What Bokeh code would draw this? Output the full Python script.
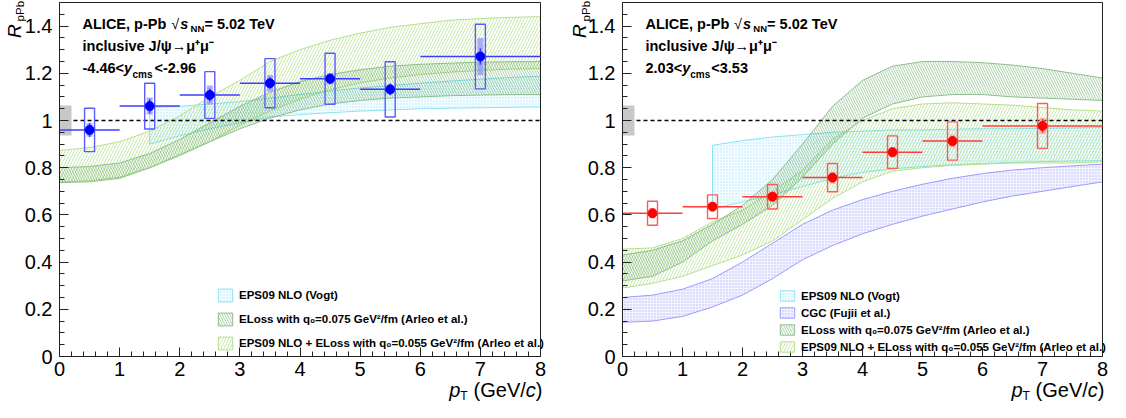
import math
from bokeh.plotting import figure
from bokeh.layouts import row
from bokeh.models import (Label, Legend, LegendItem, Range1d,
                          SingleIntervalTicker, CustomJSTickFormatter)
from bokeh.embed import file_html
from bokeh.resources import INLINE

FONT = "Liberation Sans"

# ---------------- data ----------------
pt_centers = [0.5, 1.5, 2.5, 3.5, 4.5, 5.5, 7.0]
pt_low = [0, 1, 2, 3, 4, 5, 6]
pt_high = [1, 2, 3, 4, 5, 6, 8]
global_unc = 0.064

# backward rapidity (-4.46 < y_cms < -2.96)
back_rpa = [0.960, 1.061, 1.108, 1.158, 1.177, 1.132, 1.271]
back_stat = [0.030, 0.030, 0.028, 0.025, 0.022, 0.025, 0.035]
back_syst_unc = [0.092, 0.097, 0.099, 0.104, 0.108, 0.117, 0.137]
back_syst_corr = [0.028, 0.036, 0.040, 0.035, 0.024, 0.020, 0.079]

# forward rapidity (2.03 < y_cms < 3.53)
fwd_rpa = [0.607, 0.635, 0.677, 0.758, 0.866, 0.913, 0.977]
fwd_stat = [0.012, 0.012, 0.013, 0.015, 0.017, 0.020, 0.030]
fwd_syst_unc = [0.051, 0.050, 0.052, 0.060, 0.069, 0.081, 0.095]
fwd_syst_corr = [0.022, 0.020, 0.022, 0.026, 0.022, 0.028, 0.034]

# model bands
band_x = [0, 0.5, 1, 1.5, 2, 2.5, 3, 3.5, 4, 4.5, 5, 5.5, 6, 6.5, 7, 7.5, 8]
eps_x = [1.5, 2, 2.5, 3, 3.5, 4, 4.5, 5, 5.5, 6, 6.5, 7, 7.5, 8]

back_eps_hi = [1.055, 1.06, 1.07, 1.08, 1.095, 1.11, 1.125, 1.138, 1.148, 1.158, 1.167, 1.175, 1.182, 1.188]
back_eps_lo = [0.90, 0.935, 0.965, 0.99, 1.015, 1.025, 1.033, 1.04, 1.045, 1.05, 1.052, 1.054, 1.056, 1.058]
back_eloss_hi = [0.80, 0.805, 0.82, 0.86, 0.92, 0.99, 1.06, 1.12, 1.165, 1.195, 1.215, 1.23, 1.238, 1.243, 1.247, 1.249, 1.25]
back_eloss_lo = [0.737, 0.74, 0.755, 0.80, 0.855, 0.91, 0.965, 1.01, 1.045, 1.07, 1.085, 1.095, 1.10, 1.105, 1.108, 1.11, 1.11]
back_epsel_hi = [0.873, 0.885, 0.91, 0.955, 1.02, 1.10, 1.17, 1.25, 1.30, 1.34, 1.37, 1.395, 1.41, 1.425, 1.432, 1.437, 1.44]
back_epsel_lo = [0.74, 0.745, 0.76, 0.80, 0.85, 0.91, 0.98, 1.04, 1.09, 1.13, 1.16, 1.18, 1.195, 1.205, 1.212, 1.218, 1.22]

fwd_eps_hi = [0.895, 0.915, 0.93, 0.94, 0.95, 0.955, 0.96, 0.96, 0.963, 0.965, 0.965, 0.967, 0.968, 0.97]
fwd_eps_lo = [0.625, 0.655, 0.685, 0.72, 0.755, 0.78, 0.795, 0.805, 0.812, 0.818, 0.822, 0.826, 0.828, 0.83]
fwd_cgc_hi = [0.25, 0.26, 0.285, 0.33, 0.40, 0.48, 0.56, 0.62, 0.665, 0.70, 0.73, 0.755, 0.775, 0.79, 0.80, 0.808, 0.815]
fwd_cgc_lo = [0.145, 0.15, 0.17, 0.21, 0.26, 0.33, 0.41, 0.47, 0.52, 0.56, 0.595, 0.625, 0.655, 0.68, 0.70, 0.72, 0.74]
fwd_eloss_hi = [0.43, 0.45, 0.49, 0.56, 0.64, 0.75, 0.90, 1.06, 1.17, 1.23, 1.25, 1.25, 1.245, 1.235, 1.22, 1.20, 1.18]
fwd_eloss_lo = [0.32, 0.34, 0.40, 0.49, 0.56, 0.64, 0.76, 0.90, 1.01, 1.07, 1.10, 1.11, 1.11, 1.10, 1.095, 1.09, 1.085]
fwd_epsel_hi = [0.455, 0.46, 0.50, 0.57, 0.62, 0.70, 0.79, 0.92, 1.00, 1.05, 1.07, 1.075, 1.07, 1.065, 1.055, 1.045, 1.04]
fwd_epsel_lo = [0.29, 0.31, 0.34, 0.385, 0.43, 0.49, 0.58, 0.67, 0.74, 0.785, 0.80, 0.81, 0.815, 0.82, 0.82, 0.82, 0.825]

X_MIN, X_MAX = 0, 8
Y_MIN, Y_MAX = 0, 1.5
x_tick_step = 1
y_tick_step = 0.2

lbl_eps = "EPS09 NLO (Vogt)"
lbl_cgc = "CGC (Fujii et al.)"
lbl_eloss = "ELoss with q\u2080=0.075 GeV\u00b2/fm (Arleo et al.)"
lbl_epsel = "EPS09 NLO + ELoss with q\u2080=0.055 GeV\u00b2/fm (Arleo et al.)"

# ---------------- styles ----------------
STY_EPS = dict(fill_color="#c6f2ff", fill_alpha=0.18, hatch_pattern="dot", hatch_color="#55ccee",
               hatch_scale=3, hatch_alpha=0.45, line_color="#8ae4f4", line_width=1)
STY_CGC = dict(fill_color="#d0d0ff", fill_alpha=0.25, hatch_pattern="dot", hatch_color="#7070ee",
               hatch_scale=3, hatch_alpha=0.45, line_color="#9a9aff", line_width=1)
STY_ELOSS = dict(fill_color=None, hatch_pattern="left_diagonal_line", hatch_color="#2e8b2e",
                 hatch_scale=5, hatch_weight=0.7, hatch_alpha=0.6, line_color="#8fbf8f", line_width=1)
STY_EPSEL = dict(fill_color=None, hatch_pattern="right_diagonal_line", hatch_color="#7cc83c",
                 hatch_scale=6, hatch_weight=0.7, hatch_alpha=0.6, line_color="#b5e08f", line_width=1)

blue = ("#0000ff", "#3c3cff", "#5a5aff", "#8c8cff")
red = ("#ff0000", "#ff3c3c", "#ff5a5a", "#ff9a9a")


def band(p, xs, lo, hi, sty):
    px = list(xs) + list(xs)[::-1]
    py = list(hi) + list(lo)[::-1]
    return p.patch(px, py, **sty)


def lab(p, x, y, text, size, style="bold", align="left", angle=0.0):
    p.add_layout(Label(x=x, y=y, text=text, text_font=FONT, text_font_size=size,
                       text_font_style=style, text_align=align, text_baseline="alphabetic",
                       angle=angle, text_color="black"))


def make_panel(width, xr, cfg):
    p = figure(width=width, height=402, x_range=Range1d(*xr), y_range=Range1d(-0.1949, 1.5085),
               output_backend="svg", toolbar_location=None,
               min_border_left=0, min_border_right=0, min_border_top=0, min_border_bottom=0)
    p.grid.visible = False
    p.outline_line_color = None
    p.background_fill_color = "white"
    p.border_fill_color = "white"

    for ax, iv, nm, loc, bnd in ((p.xaxis[0], x_tick_step, 5, Y_MIN, (X_MIN, X_MAX)),
                                 (p.yaxis[0], y_tick_step, 4, X_MIN, (Y_MIN, Y_MAX))):
        ax.ticker = SingleIntervalTicker(interval=iv, num_minor_ticks=nm)
        ax.fixed_location = loc
        ax.bounds = bnd
        ax.major_tick_in = 9
        ax.major_tick_out = 0
        ax.minor_tick_in = 5
        ax.minor_tick_out = 0
        ax.major_label_text_font = FONT
        ax.major_label_text_font_size = "20px"
        ax.major_label_text_font_style = "normal"
        ax.major_label_text_color = "black"
        ax.axis_line_color = "#222222"
        ax.major_tick_line_color = "#222222"
        ax.minor_tick_line_color = "#222222"
    p.yaxis.formatter = CustomJSTickFormatter(code="return String(Math.round(tick*100)/100);")
    p.yaxis.major_label_standoff = 7
    p.xaxis.major_label_standoff = 5

    # model bands
    rends = {}
    for (xs, lo, hi, sty, name) in cfg["bands"]:
        rends[name] = band(p, xs, lo, hi, sty)

    # frame
    p.quad(left=[X_MIN], right=[X_MAX], bottom=[Y_MIN], top=[Y_MAX],
           fill_color=None, line_color="#222222", line_width=1)

    # reference line at unity
    p.line(x=[X_MIN, X_MAX], y=[1, 1], line_color="black", line_dash="4 3", line_width=1.5)

    # global uncertainty box
    p.quad(left=[X_MIN], right=[X_MIN + 0.2], bottom=[1 - global_unc], top=[1 + global_unc],
           fill_color="#c8c8c8", line_color=None)

    vals, stat, sunc, scorr = cfg["vals"], cfg["stat"], cfg["sunc"], cfg["scorr"]
    cm, cl, cb, cf = cfg["colors"]
    x = pt_centers
    p.segment(x0=pt_low, x1=pt_high, y0=vals, y1=vals, line_color=cl, line_width=1.5)
    p.quad(left=[c - 0.05 for c in x], right=[c + 0.05 for c in x],
           bottom=[v - s for v, s in zip(vals, scorr)], top=[v + s for v, s in zip(vals, scorr)],
           fill_color=cf, fill_alpha=0.7, line_color=None)
    p.quad(left=[c - 0.083 for c in x], right=[c + 0.083 for c in x],
           bottom=[v - s for v, s in zip(vals, sunc)], top=[v + s for v, s in zip(vals, sunc)],
           fill_color=None, line_color=cb, line_width=1.4)
    p.segment(x0=x, x1=x, y0=[v - s for v, s in zip(vals, stat)], y1=[v + s for v, s in zip(vals, stat)],
              line_color=cl, line_width=1.5)
    p.scatter(x=x, y=vals, size=9, marker="circle", fill_color=cm, line_color=cm)

    # legend
    items = [LegendItem(label=name, renderers=[rends[name]]) for name in cfg["legend_order"]]
    leg = Legend(items=items, location=cfg["legend_loc"], orientation="vertical",
                 background_fill_alpha=0, border_line_alpha=0, padding=0, margin=0,
                 spacing=cfg["legend_spacing"], glyph_width=18, glyph_height=cfg["glyph_h"],
                 label_height=cfg["glyph_h"], label_standoff=5, label_text_font=FONT,
                 label_text_font_style="bold", label_text_font_size="11.5px", label_text_color="black")
    p.add_layout(leg)

    # header texts
    lab(p, 0.383, 1.41, "ALICE, p-Pb", "14.5px")
    lab(p, 1.86, 1.41, "\u221a", "14.5px", style="normal")
    lab(p, 2.01, 1.41, "s", "14.5px", style="bold italic")
    lab(p, 2.18, 1.39, "NN", "9.5px")
    lab(p, 2.41, 1.41, "= 5.02 TeV", "14.5px")
    lab(p, 0.383, 1.315, "inclusive J/\u03c8\u2192\u03bc\u207a\u03bc\u207b", "14.5px")
    r0, yx, cx, rx, r1 = cfg["rapidity"]
    lab(p, 0.383, 1.223, r0, "14.5px")
    lab(p, yx, 1.223, "y", "14.5px", style="bold italic")
    lab(p, cx, 1.194, "cms", "10px")
    lab(p, rx, 1.223, r1, "14.5px")

    # axis titles
    ylx = cfg["ylab_x"]
    lab(p, ylx, 1.35, "R", "19px", style="italic", angle=math.pi / 2)
    lab(p, ylx + 0.1, 1.42, "pPb", "11.5px", style="normal", angle=math.pi / 2)
    lab(p, 6.483, -0.144, "p", "20px", style="italic")
    lab(p, 6.667, -0.169, "T", "12px", style="normal")
    lab(p, 7.755, -0.144, "(GeV/", "20px", style="normal", align="right")
    lab(p, 7.922, -0.144, "c", "20px", style="italic", align="right")
    lab(p, 8.033, -0.144, ")", "20px", style="normal", align="right")
    return p


left_cfg = dict(
    bands=[(eps_x, back_eps_lo, back_eps_hi, STY_EPS, lbl_eps),
           (band_x, back_epsel_lo, back_epsel_hi, STY_EPSEL, lbl_epsel),
           (band_x, back_eloss_lo, back_eloss_hi, STY_ELOSS, lbl_eloss)],
    legend_order=[lbl_eps, lbl_eloss, lbl_epsel],
    legend_loc=(216, 51), legend_spacing=8, glyph_h=16,
    vals=back_rpa, stat=back_stat, sunc=back_syst_unc, scorr=back_syst_corr, colors=blue,
    rapidity=("-4.46<", 1.073, 1.215, 1.58, "<-2.96"),
    ylab_x=-0.75,
)
right_cfg = dict(
    bands=[(eps_x, fwd_eps_lo, fwd_eps_hi, STY_EPS, lbl_eps),
           (band_x, fwd_cgc_lo, fwd_cgc_hi, STY_CGC, lbl_cgc),
           (band_x, fwd_epsel_lo, fwd_epsel_hi, STY_EPSEL, lbl_epsel),
           (band_x, fwd_eloss_lo, fwd_eloss_hi, STY_ELOSS, lbl_eloss)],
    legend_order=[lbl_eps, lbl_cgc, lbl_eloss, lbl_epsel],
    legend_loc=(221, 49), legend_spacing=4, glyph_h=13,
    vals=fwd_rpa, stat=fwd_stat, sunc=fwd_syst_unc, scorr=fwd_syst_corr, colors=red,
    rapidity=("2.03<", 0.995, 1.13, 1.48, "<3.53"),
    ylab_x=-0.71,
)

p1 = make_panel(557, (-0.9813, 8.2827), left_cfg)
p2 = make_panel(553, (-1.0833, 8.1333), right_cfg)

layout = row(p1, p2)
open("out.html", "w").write(file_html(layout, INLINE))
